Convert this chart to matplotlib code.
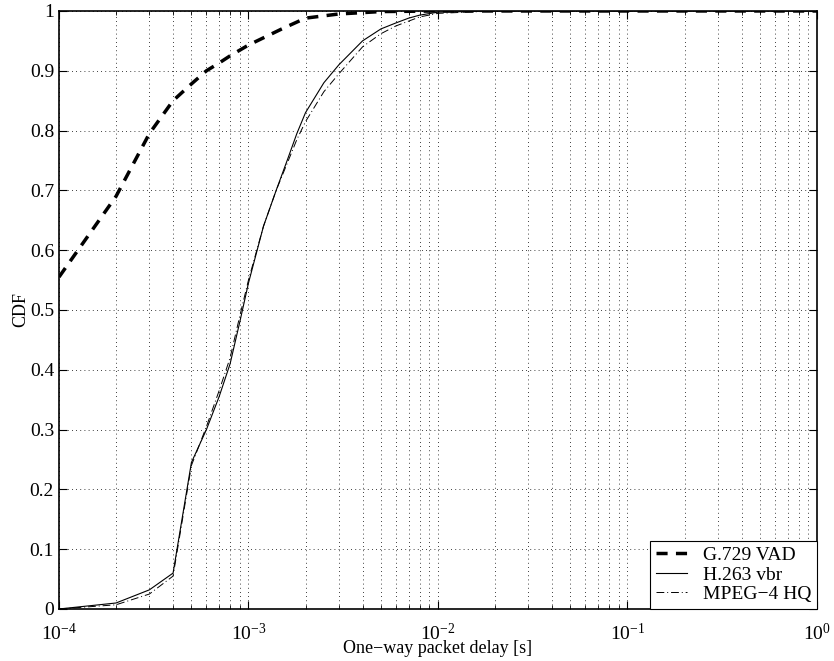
import matplotlib
matplotlib.use("Agg")
import matplotlib.pyplot as plt
from matplotlib.ticker import LogLocator, NullFormatter, FixedLocator, FuncFormatter

plt.rcParams['font.family'] = ['Liberation Serif', 'DejaVu Serif']
plt.rcParams['mathtext.fontset'] = 'stix'

# delay values [s]
g729_x = [1e-4, 2e-4, 3e-4, 4e-4, 5e-4, 6e-4, 7e-4, 8e-4, 1e-3, 1.5e-3,
          2e-3, 3e-3, 5e-3, 1e-2, 1.0]
g729_y = [0.555, 0.69, 0.795, 0.85, 0.878, 0.9, 0.913, 0.925, 0.943, 0.97,
          0.988, 0.995, 0.999, 1.0, 1.0]

video_x = [1e-4, 2e-4, 3e-4, 4e-4, 5e-4, 6e-4, 7e-4, 8e-4, 9e-4, 1e-3,
           1.2e-3, 1.4e-3, 1.6e-3, 1.8e-3, 2e-3, 2.5e-3, 3e-3, 4e-3, 5e-3,
           6e-3, 7e-3, 8e-3, 1e-2, 2e-2, 1.0]
h263_y = [0.0, 0.01, 0.032, 0.06, 0.245, 0.30, 0.355, 0.41, 0.48, 0.545,
          0.64, 0.70, 0.75, 0.795, 0.83, 0.88, 0.91, 0.95, 0.97,
          0.98, 0.988, 0.993, 0.998, 1.0, 1.0]
mpeg4_y = [0.0, 0.007, 0.025, 0.055, 0.24, 0.305, 0.365, 0.42, 0.49, 0.55,
           0.64, 0.70, 0.745, 0.785, 0.815, 0.865, 0.895, 0.94, 0.962,
           0.975, 0.983, 0.99, 0.996, 1.0, 1.0]

y_ticks = [0.0, 0.1, 0.2, 0.3, 0.4, 0.5, 0.6, 0.7, 0.8, 0.9, 1.0]

fig = plt.figure(figsize=(8.34, 6.61), dpi=100)
ax = fig.add_axes([0.0707, 0.0787, 0.9089, 0.9047])

ax.plot(g729_x, g729_y, color='black', linewidth=2.5, linestyle=(0, (3.2, 2.4)),
        label='G.729 VAD')
ax.plot(video_x, h263_y, color='black', linewidth=0.8, linestyle='-',
        label='H.263 vbr')
ax.plot(video_x, mpeg4_y, color='black', linewidth=0.7,
        linestyle=(0, (8, 3, 1, 3)), label='MPEG\u22124 HQ')

ax.set_xscale('log')
ax.set_xlim(1e-4, 1)
ax.set_ylim(0, 1)
ax.xaxis.set_major_locator(LogLocator(base=10, numticks=10))
ax.xaxis.set_minor_locator(LogLocator(base=10, subs=range(2, 10), numticks=50))
ax.xaxis.set_minor_formatter(NullFormatter())
ax.yaxis.set_major_locator(FixedLocator(y_ticks))
ax.yaxis.set_major_formatter(FuncFormatter(lambda v, p: '%g' % round(v, 1)))

ax.grid(True, which='major', linestyle=(0, (1, 4)), color='black', linewidth=0.6)
ax.grid(True, which='minor', axis='x', linestyle=(0, (1, 4)), color='black',
        linewidth=0.6)

ax.tick_params(which='both', direction='in', top=True, right=True, labelsize=14)
ax.tick_params(which='major', length=6, width=0.8)
ax.tick_params(which='minor', length=3, width=0.6)
ax.tick_params(axis='x', pad=10)
for s in ax.spines.values():
    s.set_linewidth(1.2)

ax.set_xlabel('One\u2212way packet delay [s]', fontsize=13, labelpad=-3)
ax.set_ylabel('CDF', fontsize=13, labelpad=0)

leg = ax.legend(loc='lower right', fontsize=14, fancybox=False, framealpha=1,
                edgecolor='black', borderaxespad=0.0, handlelength=1.6,
                handletextpad=0.8, labelspacing=0.1, borderpad=0.3)
leg.get_frame().set_linewidth(0.8)

fig.savefig('out.png', dpi=100)
